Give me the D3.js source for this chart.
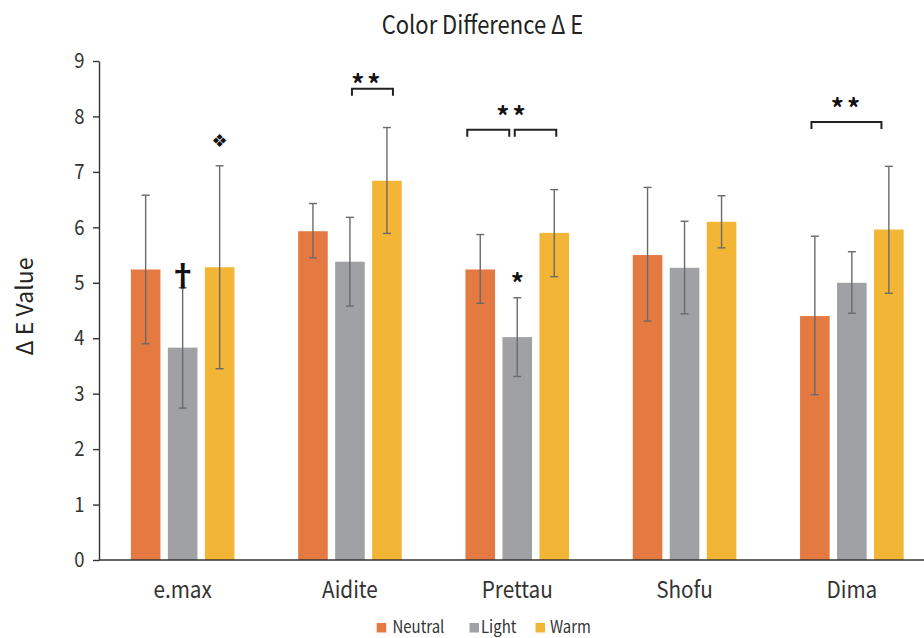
<!DOCTYPE html>
<html>
<head>
<meta charset="utf-8">
<script src="https://cdn.jsdelivr.net/npm/d3@7/dist/d3.min.js"></script>
<style>
body { margin: 0; background: white; }
svg text { font-family: "Noto Sans CJK KR", "Noto Sans", sans-serif; fill: #222; }
.axis path, .axis line { stroke: #333; stroke-width: 1.4; }
.axis text { fill: #333; }
</style>
</head>
<body>
<script>
const groups = ["e.max", "Aidite", "Prettau", "Shofu", "Dima"];
const series = ["Neutral", "Light", "Warm"];
const colors = ["#E47A42", "#A0A1A4", "#F2B535"];
const yTicks = [0, 1, 2, 3, 4, 5, 6, 7, 8, 9];

// mean values per series, one entry per group
const neutralMean = [5.24, 5.93, 5.24, 5.50, 4.40];
const lightMean   = [3.83, 5.38, 4.02, 5.27, 5.00];
const warmMean    = [5.28, 6.84, 5.90, 6.10, 5.96];
// error bar ends (low, high)
const neutralLow  = [3.90, 5.45, 4.63, 4.31, 2.98];
const neutralHigh = [6.58, 6.43, 5.87, 6.72, 5.84];
const lightLow    = [2.74, 4.58, 3.31, 4.44, 4.45];
const lightHigh   = [4.91, 6.18, 4.73, 6.11, 5.56];
const warmLow     = [3.45, 5.89, 5.11, 5.63, 4.81];
const warmHigh    = [7.11, 7.80, 6.68, 6.57, 7.10];

// significance brackets and marks (y in data units)
const brackets = [
  {group: "Aidite", from: "Light", to: "Warm", y: 8.50},
  {group: "Prettau", from: "Neutral", to: "Light", y: 7.76},
  {group: "Prettau", from: "Light", to: "Warm", y: 7.76},
  {group: "Dima", from: "Neutral", to: "Warm", y: 7.90}
];
const marks = [
  {group: "Aidite", at: "Light", shift: 0.43, text: "**", y: 8.75},
  {group: "Prettau", at: "Light", shift: -0.17, text: "**", y: 8.18},
  {group: "Dima", at: "Light", shift: -0.17, text: "**", y: 8.32},
  {group: "e.max", at: "Light", shift: 0, text: "\u2020", y: 5.18},
  {group: "e.max", at: "Warm", shift: 0, text: "\u2756", y: 7.56},
  {group: "Prettau", at: "Light", shift: 0, text: "*", y: 5.16}
];

const means = [neutralMean, lightMean, warmMean];
const lows = [neutralLow, lightLow, warmLow];
const highs = [neutralHigh, lightHigh, warmHigh];
const data = [];
groups.forEach((g, gi) => series.forEach((s, si) => {
  data.push({group: g, series: s, color: colors[si], mean: means[si][gi], low: lows[si][gi], high: highs[si][gi]});
}));

const W = 924, H = 638;
const squeeze = 0.88; // the source font is a narrow one
const svg = d3.select("body").append("svg").attr("width", W).attr("height", H);
const margin = {left: 99, top: 61, bottom: 78};
const plotH = H - margin.top - margin.bottom;

const x0 = d3.scaleBand().domain(groups).range([margin.left, margin.left + 5 * 167.3]);
const x1 = d3.scaleBand().domain(series).range([-55.5, 55.5]).paddingInner(0.2).paddingOuter(0.1);
const y = d3.scaleLinear().domain([0, 9]).range([margin.top + plotH, margin.top]);
const cx = (g, s) => x0(g) + x0.bandwidth() / 2 + x1(s) + x1.bandwidth() / 2;

svg.append("g").selectAll("rect").data(data).join("rect")
  .attr("x", d => cx(d.group, d.series) - x1.bandwidth() / 2)
  .attr("width", x1.bandwidth())
  .attr("y", d => y(d.mean))
  .attr("height", d => y(0) - y(d.mean))
  .attr("fill", d => d.color);

const eb = svg.append("g").attr("stroke", "#6a6a6a").attr("stroke-width", 1.4);
data.forEach(d => {
  const c = cx(d.group, d.series);
  eb.append("line").attr("x1", c).attr("x2", c).attr("y1", y(d.low)).attr("y2", y(d.high));
  eb.append("line").attr("x1", c - 4).attr("x2", c + 4).attr("y1", y(d.low)).attr("y2", y(d.low));
  eb.append("line").attr("x1", c - 4).attr("x2", c + 4).attr("y1", y(d.high)).attr("y2", y(d.high));
});

const ya = svg.append("g").attr("class", "axis")
  .attr("transform", `translate(${margin.left},0)`)
  .call(d3.axisLeft(y).tickValues(yTicks).tickSize(6).tickPadding(10.5).tickSizeOuter(0));
ya.selectAll("text").style("font-size", "21px").attr("transform", `scale(${squeeze},1)`);

const xa = svg.append("g").attr("class", "axis")
  .attr("transform", `translate(0,${y(0)})`)
  .call(d3.axisBottom(x0).tickSize(0).tickPadding(21.7).tickSizeOuter(0));
xa.select(".domain").attr("d", `M${margin.left},0H${W}`);
xa.selectAll("text").style("font-size", "23px").attr("transform", "scale(0.9,1)");

// bracket end nudges in px, one pair per bracket
const bracketNudge = [[2, 6], [-13, -8], [-2.5, 2], [-3.4, -7.4]];
const br = svg.append("g").attr("fill", "none").attr("stroke", "#222").attr("stroke-width", 2);
brackets.forEach((b, i) => {
  const a = cx(b.group, b.from) + bracketNudge[i][0];
  const e = cx(b.group, b.to) + bracketNudge[i][1];
  const yy = y(b.y);
  br.append("path").attr("d", `M${a},${yy + 7}V${yy}H${e}V${yy + 7}`);
});

svg.append("g").selectAll("text").data(marks).join("text")
  .attr("x", d => cx(d.group, d.at) + d.shift * x1.step() + (d.text === "**" ? 1.5 : 0))
  .attr("y", d => y(d.y))
  .attr("text-anchor", "middle")
  .attr("dominant-baseline", "central")
  .style("fill", "#111")
  .style("font-family", d => d.text === "\u2756" ? "DejaVu Sans" : null)
  .style("font-weight", "bold")
  .style("letter-spacing", d => d.text === "**" ? "3px" : null)
  .style("font-size", d => d.text === "\u2756" ? "18px" : (d.text === "\u2020" ? "30px" : "26px"))
  .attr("dy", d => d.text.startsWith("*") ? "0.3em" : 0)
  .text(d => d.text);

svg.append("text").attr("transform", `translate(482.5,33.7) scale(${squeeze},1)`)
  .attr("text-anchor", "middle")
  .style("font-size", "25px").text("Color Difference \u0394 E");

svg.append("text").attr("transform", "translate(33,306.5) rotate(-90)")
  .attr("text-anchor", "middle")
  .style("font-size", "23px").text("\u0394 E Value");

const leg = svg.append("g");
const legBoxX = [376.7, 469.5, 535.5];
const legTextX = [392.5, 481, 550];
series.forEach((s, i) => {
  leg.append("rect").attr("x", legBoxX[i]).attr("y", 623).attr("width", 9.5).attr("height", 9.5).attr("fill", colors[i]);
  leg.append("text").attr("transform", `translate(${legTextX[i]},632.7) scale(${squeeze},1)`)
    .style("font-size", "17px").style("fill", "#333").text(s);
});
</script>
</body>
</html>
